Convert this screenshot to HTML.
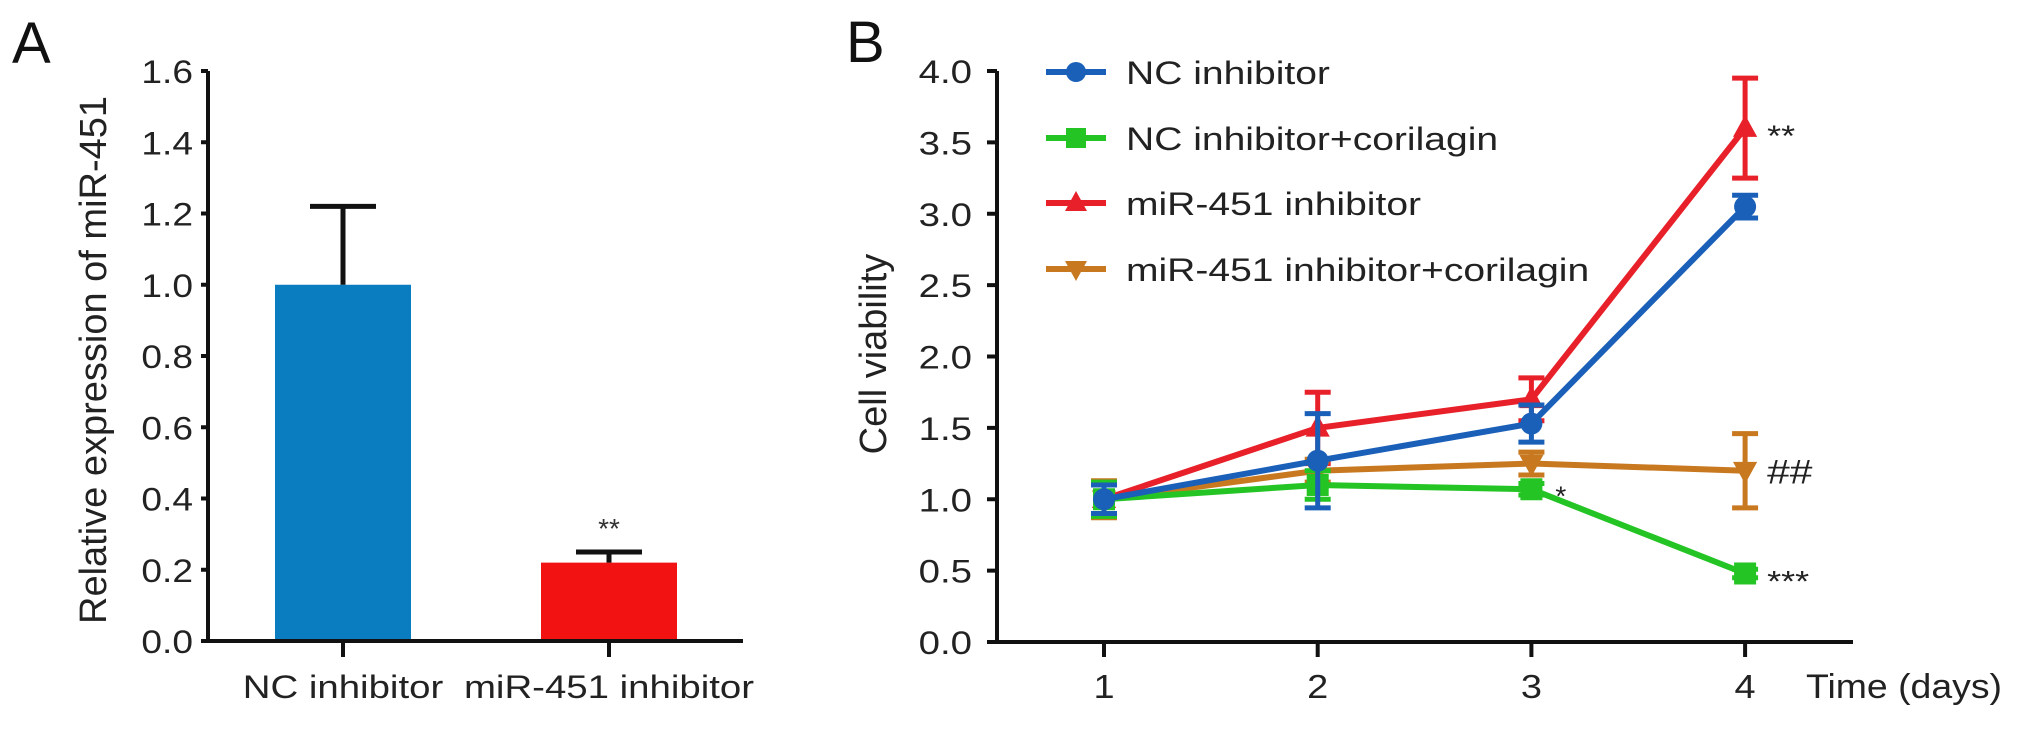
<!DOCTYPE html>
<html><head><meta charset="utf-8">
<style>
html,body{margin:0;padding:0;background:#fff;}
svg{display:block;font-family:"Liberation Sans",Arial,sans-serif;}
</style></head>
<body>
<svg id="fig" width="2031" height="731" viewBox="0 0 2031 731">
  <text x="12" y="63" font-size="58" fill="#111">A</text>
  <text x="846" y="62" font-size="58" fill="#111">B</text>
  <g id="pa"></g>
  <g id="pb"></g>
</svg>
<script>
// ---- Panel A data ----
const barCategories = ["NC inhibitor", "miR-451 inhibitor"];
const barValues = [1.0, 0.22];
const barErrors = [0.22, 0.03];
const barSig = ["", "**"];
const aTicks = ["0.0","0.2","0.4","0.6","0.8","1.0","1.2","1.4","1.6"];

// ---- Panel B data ----
const days = [1, 2, 3, 4];
const dayLabels = ["1","2","3","4"];
const seriesNames = ["NC inhibitor","NC inhibitor+corilagin","miR-451 inhibitor","miR-451 inhibitor+corilagin"];
const ncVals = [1.0, 1.27, 1.53, 3.05];
const ncErr = [0.1, 0.33, 0.13, 0.08];
const ncCorVals = [1.0, 1.1, 1.07, 0.48];
const ncCorErr = [0.12, 0.1, 0.04, 0.03];
const mirVals = [1.0, 1.5, 1.7, 3.6];
const mirErr = [0.1, 0.25, 0.15, 0.35];
const mirCorVals = [1.0, 1.2, 1.25, 1.2];
const mirCorErr = [0.13, 0.08, 0.08, 0.26];
const bTicks = ["0.0","0.5","1.0","1.5","2.0","2.5","3.0","3.5","4.0"];
const endSig = ["", "***", "**", "##"];

const NS = "http://www.w3.org/2000/svg";
function mk(parent, tag, attrs, text){
  const e = document.createElementNS(NS, tag);
  for (const k in attrs) e.setAttribute(k, attrs[k]);
  if (text !== undefined) e.textContent = text;
  parent.appendChild(e);
  return e;
}

// ===== Panel A =====
const pa = document.getElementById('pa');
const aX0 = 208, aY0 = 641, aY1 = 71, aMax = 1.6;
const ay = v => aY0 - v / aMax * (aY0 - aY1);
const aCenters = [343, 609];
const ax = i => aCenters[i];
const barW = 136;
const aColors = ["#0a7cc0", "#f31212"];

let e;
aTicks.forEach(t => {
  const v = parseFloat(t), y = ay(v);
  e = mk(pa, 'line', {x1: aX0 - 7, x2: aX0, y1: y, y2: y, stroke: '#111', 'stroke-width': 4});
  
  
  e = mk(pa, 'text', {x: 0, y: 0, 'font-size': 32, 'text-anchor': 'end', fill: '#222', transform: `translate(193,${y + 12}) scale(1.16,1)`}, t);
  
  
});
barValues.forEach((v, i) => {
  const c = ax(i);
  e = mk(pa, 'rect', {x: c - barW/2, y: ay(v), width: barW, height: aY0 - ay(v), fill: aColors[i]});
  
  
  const top = ay(v + barErrors[i]);
  e = mk(pa, 'path', {d: `M${c},${ay(v)} V${top} M${c-33},${top} H${c+33}`, stroke: '#111', 'stroke-width': 5, fill: 'none'});
  
  
  if (barSig[i]) {
    e = mk(pa, 'text', {x: c, y: top - 14, 'font-size': 28, 'text-anchor': 'middle', fill: '#333'}, barSig[i]);
    
    
  }
  e = mk(pa, 'line', {x1: c, x2: c, y1: aY0, y2: aY0 + 16, stroke: '#111', 'stroke-width': 4});
  
  
  e = mk(pa, 'text', {x: 0, y: 0, 'font-size': 32, 'text-anchor': 'middle', fill: '#222', transform: `translate(${c},698) scale(1.2,1)`}, barCategories[i]);
  
  
});
e = mk(pa, 'path', {d: `M${aX0},${aY1} V${aY0} M${aX0-7},${aY0} H743`, stroke: '#111', 'stroke-width': 4, fill: 'none'});


e = mk(pa, 'text', {x: 0, y: 0, 'font-size': 38, 'text-anchor': 'middle', fill: '#222', transform: 'translate(106,360) rotate(-90)'}, 'Relative expression of miR-451');



// ===== Panel B =====
const pb = document.getElementById('pb');
const bX0 = 997, bY0 = 642, bY1 = 71, bMax = 4;
const by = v => bY0 - v / bMax * (bY0 - bY1);
const bx = d => 1104 + (d - 1) * 213.7;

bTicks.forEach(t => {
  const v = parseFloat(t), y = by(v);
  e = mk(pb, 'line', {x1: bX0 - 10, x2: bX0, y1: y, y2: y, stroke: '#111', 'stroke-width': 4});
  
  
  e = mk(pb, 'text', {x: 0, y: 0, 'font-size': 32, 'text-anchor': 'end', fill: '#222', transform: `translate(972,${y + 12}) scale(1.2,1)`}, t);
  
  
});
days.forEach((d, i) => {
  const x = bx(d);
  e = mk(pb, 'line', {x1: x, x2: x, y1: bY0, y2: bY0 + 15, stroke: '#111', 'stroke-width': 4});
  
  
  e = mk(pb, 'text', {x: 0, y: 0, 'font-size': 33, 'text-anchor': 'middle', fill: '#222', transform: `translate(${x},698) scale(1.15,1)`}, dayLabels[i]);
  
  
});
e = mk(pb, 'path', {d: `M${bX0},${bY1} V${bY0} H1853`, stroke: '#111', 'stroke-width': 4, fill: 'none'});


e = mk(pb, 'text', {x: 0, y: 0, 'font-size': 34, fill: '#222', transform: 'translate(1806,698) scale(1.1,1)'}, 'Time (days)');


e = mk(pb, 'text', {x: 0, y: 0, 'font-size': 38, 'text-anchor': 'middle', fill: '#222', transform: 'translate(886,354) rotate(-90)'}, 'Cell viability');



const series = [
  {vals: mirVals, err: mirErr, color: '#e8202a', marker: 'tri', slug: 'mir451-inhibitor', idx: 2},
  {vals: mirCorVals, err: mirCorErr, color: '#c8781e', marker: 'tridown', slug: 'mir451-inhibitor-corilagin', idx: 3},
  {vals: ncCorVals, err: ncCorErr, color: '#25c425', marker: 'sq', slug: 'nc-inhibitor-corilagin', idx: 1},
  {vals: ncVals, err: ncErr, color: '#1a5fb8', marker: 'circ', slug: 'nc-inhibitor', idx: 0},
];
function marker(g, type, x, y, color, s){
  let m;
  if (type === 'circ') m = mk(g, 'circle', {cx: x, cy: y, r: s, fill: color});
  else if (type === 'sq') m = mk(g, 'rect', {x: x - s, y: y - s, width: 2*s, height: 2*s, fill: color});
  else if (type === 'tri') m = mk(g, 'polygon', {points: `${x},${y-s*1.2} ${x-s*1.1},${y+s*0.8} ${x+s*1.1},${y+s*0.8}`, fill: color});
  else m = mk(g, 'polygon', {points: `${x},${y+s*1.2} ${x-s*1.1},${y-s*0.8} ${x+s*1.1},${y-s*0.8}`, fill: color});
  return m;
}
series.forEach(s => {
  const g = mk(pb, 'g', {});
  
  
  const pts = s.vals.map((v, i) => `${bx(days[i])},${by(v)}`).join(' ');
  e = mk(g, 'polyline', {points: pts, fill: 'none', stroke: s.color, 'stroke-width': 6});
  
  
  s.vals.forEach((v, i) => {
    const x = bx(days[i]), yt = by(v + s.err[i]), yb = by(v - s.err[i]);
    e = mk(g, 'path', {d: `M${x},${yt} V${yb} M${x-13},${yt} H${x+13} M${x-13},${yb} H${x+13}`, stroke: s.color, 'stroke-width': 5, fill: 'none'});
    
    
    e = marker(g, s.marker, x, by(v), s.color, 11);
    
    
  });
  if (endSig[s.idx]) {
    const lastI = s.vals.length - 1;
    const isHash = endSig[s.idx] === '##';
    e = mk(g, 'text', {x: 0, y: 0, 'font-size': isHash ? 34 : 30, fill: '#222', transform: `translate(${bx(days[lastI]) + 22},${by(s.vals[lastI]) + (isHash ? 13 : 18)}) scale(1.2,1)`}, endSig[s.idx]);
    
    
  }
});
e = mk(pb, 'text', {x: bx(3) + 24, y: by(1.07) + 16, 'font-size': 28, fill: '#222'}, '*');



// Legend
const legendColors = ['#1a5fb8', '#25c425', '#e8202a', '#c8781e'];
const legendMarkers = ['circ', 'sq', 'tri', 'tridown'];
const legendY = [72, 138, 203, 269];
seriesNames.forEach((n, i) => {
  const g = mk(pb, 'g', {});
  
  
  const y = legendY[i];
  mk(g, 'line', {x1: 1046, x2: 1106, y1: y, y2: y, stroke: legendColors[i], 'stroke-width': 6});
  marker(g, legendMarkers[i], 1076, y, legendColors[i], 10);
  e = mk(g, 'text', {x: 0, y: 0, 'font-size': 32, fill: '#222', transform: `translate(1126,${y + 12}) scale(1.22,1)`}, n);
  
  
});
</script>
</body></html>
